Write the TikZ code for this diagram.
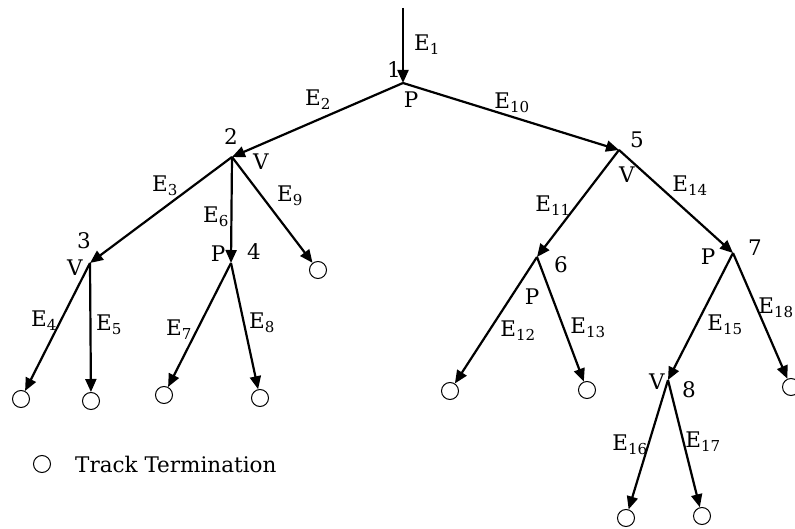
\documentclass[tikz,border=0pt]{standalone}
\usepackage{fontspec}
\setmainfont{DejaVu Serif}
\usetikzlibrary{arrows.meta}
\newcommand\Elab[1]{E\textsubscript{#1}}
\tikzset{
  edge/.style={line width=2.2pt,-{Triangle[length=13pt,width=11pt]}},
  term/.style={circle,draw,line width=1pt,minimum size=17pt,inner sep=0pt},
  lab/.style={inner sep=0pt,anchor=center,font=\fontsize{21.5}{24}\selectfont},
}
\begin{document}
\begin{tikzpicture}[x=1pt,y=-1pt]
\useasboundingbox (0,0) rectangle (795,529);
% vertices
\coordinate (top) at (403,8);
\coordinate (v1) at (403,83);
\coordinate (v2) at (232,157);
\coordinate (v5) at (619,150);
\coordinate (v3) at (90,263);
\coordinate (v4) at (231,263);
\coordinate (v6) at (537,257);
\coordinate (v7) at (733,253);
\coordinate (v8) at (668,380);
% terminations
\node[term] (t9) at (318,270) {};
\node[term] (t4) at (21,399) {};
\node[term] (t5) at (91,401) {};
\node[term] (t7) at (164,395) {};
\node[term] (t8) at (260,398) {};
\node[term] (t12) at (450,391) {};
\node[term] (t13) at (587,390) {};
\node[term] (t18) at (791,387) {};
\node[term] (t16) at (626,518) {};
\node[term] (t17) at (702,516) {};
% edges
\draw[edge] (top) -- (v1);
\draw[edge] (v1) -- (v2);
\draw[edge] (v1) -- (v5);
\draw[edge] (v2) -- (v3);
\draw[edge] (v2) -- (v4);
\draw[edge] (v2) -- (t9);
\draw[edge] (v3) -- (t4);
\draw[edge] (v3) -- (t5);
\draw[edge] (v4) -- (t7);
\draw[edge] (v4) -- (t8);
\draw[edge] (v5) -- (v6);
\draw[edge] (v5) -- (v7);
\draw[edge] (v6) -- (t12);
\draw[edge] (v6) -- (t13);
\draw[edge] (v7) -- (v8);
\draw[edge] (v7) -- (t18);
\draw[edge] (v8) -- (t16);
\draw[edge] (v8) -- (t17);
% edge labels
\node[lab] (e1) at (427,45) {\Elab{1}};
\node[lab] (e2) at (318,100) {\Elab{2}};
\node[lab] (e10) at (512,103) {\Elab{10}};
\node[lab] (e3) at (165,186) {\Elab{3}};
\node[lab] (e6) at (216,217) {\Elab{6}};
\node[lab] (e9) at (290,196) {\Elab{9}};
\node[lab] (e4) at (44,321) {\Elab{4}};
\node[lab] (e5) at (109,325) {\Elab{5}};
\node[lab] (e7) at (179,330) {\Elab{7}};
\node[lab] (e8) at (262,323) {\Elab{8}};
\node[lab] (e11) at (553,206) {\Elab{11}};
\node[lab] (e14) at (690,186) {\Elab{14}};
\node[lab] (e12) at (518,331) {\Elab{12}};
\node[lab] (e13) at (588,328) {\Elab{13}};
\node[lab] (e15) at (725,325) {\Elab{15}};
\node[lab,anchor=east] (e18) at (794,308) {\Elab{18}};
\node[lab] (e16) at (630,445) {\Elab{16}};
\node[lab] (e17) at (703,442) {\Elab{17}};
% vertex numbers and types
\node[lab] (n1) at (394,70) {1};
\node[lab] (p1) at (411,100) {P};
\node[lab] (n2) at (231,137) {2};
\node[lab] (q2) at (261,162) {V};
\node[lab] (n3) at (84,241) {3};
\node[lab] (q3) at (75,268) {V};
\node[lab] (p4) at (218,254) {P};
\node[lab] (n4) at (254,252) {4};
\node[lab] (n5) at (637,140) {5};
\node[lab] (q5) at (627,175) {V};
\node[lab] (n6) at (561,265) {6};
\node[lab] (p6) at (532,297) {P};
\node[lab] (p7) at (708,257) {P};
\node[lab] (n7) at (755,248) {7};
\node[lab] (q8) at (657,382) {V};
\node[lab] (n8) at (689,390) {8};
% legend
\node[term] (leg) at (42,464) {};
\node[lab,anchor=west] (legtext) at (75,464) {Track Termination};
\end{tikzpicture}
\end{document}
